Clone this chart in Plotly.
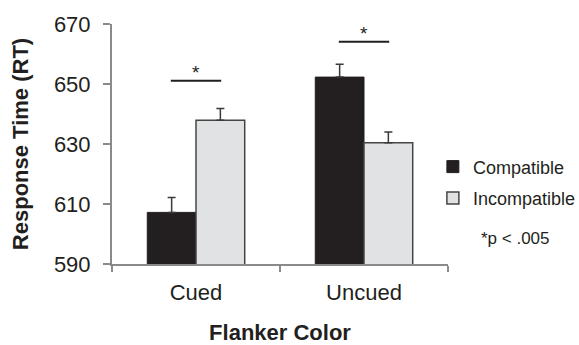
import plotly.graph_objects as go

categories = ["Cued", "Uncued"]
compatible = [607.2, 652.3]
compatible_err = [5.0, 4.3]
incompatible = [637.9, 630.4]
incompatible_err = [3.9, 3.6]
y_ticks = [590, 610, 630, 650, 670]
sig_lines = [  # (category index, line y, star y)
    (0, 651.1, 654.0),
    (1, 664.1, 667.0),
]

FONT = "Liberation Sans, Arial, sans-serif"
AX = "#8a8a8a"

fig = go.Figure()
fig.add_trace(go.Bar(
    x=categories, y=compatible, name="Compatible",
    marker=dict(color="#231f20", line=dict(color="#231f20", width=1)),
    error_y=dict(type="data", array=compatible_err, arrayminus=[0, 0], symmetric=False,
                 color="#3a3a3a", thickness=1.5, width=4),
    legendgroup="a",
))
fig.add_trace(go.Bar(
    x=categories, y=incompatible, name="Incompatible",
    marker=dict(color="#e1e2e4", line=dict(color="#454545", width=1.5)),
    error_y=dict(type="data", array=incompatible_err, arrayminus=[0, 0], symmetric=False,
                 color="#3a3a3a", thickness=1.5, width=4),
    legendgroup="b",
))

for idx, ly, sy in sig_lines:
    fig.add_shape(type="line", xref="x", yref="y", x0=idx - 0.15, x1=idx + 0.15,
                  y0=ly, y1=ly, line=dict(color="#231f20", width=2))
    fig.add_annotation(x=idx, y=sy, xref="x", yref="y", text="*", showarrow=False,
                       font=dict(family=FONT, size=19, color="#231f20"))

fig.add_annotation(x=(515 - 112) / 336, y=(264 - 238) / 240, xref="paper", yref="paper",
                   text="*p < .005", showarrow=False, xanchor="center", yanchor="middle",
                   font=dict(family=FONT, size=17, color="#231f20"))

fig.update_layout(
    width=579, height=345,
    margin=dict(l=112, r=131, t=24, b=81, autoexpand=False),
    paper_bgcolor="white", plot_bgcolor="white",
    barmode="group", bargap=0.42, bargroupgap=0,
    font=dict(family=FONT, color="#231f20"),
    showlegend=True,
    legend=dict(x=0.955, y=0.34, xanchor="left", yanchor="middle",
                font=dict(family=FONT, size=18, color="#231f20"),
                bgcolor="rgba(0,0,0,0)", traceorder="grouped", tracegroupgap=5),
    xaxis=dict(
        showline=True, linecolor=AX, linewidth=2, ticks="outside", tickson="boundaries",
        ticklen=6, tickcolor=AX, tickwidth=1.5, automargin=False, ticklabelstandoff=8,
        tickfont=dict(family=FONT, size=22, color="#231f20"),
        range=[-0.5, 1.5],
        title=dict(text="<b>Flanker Color</b>", font=dict(family=FONT, size=22, color="#231f20"),
                   standoff=21),
    ),
    yaxis=dict(
        range=[590, 670], tickvals=y_ticks, showline=True, linecolor=AX, linewidth=2,
        ticks="outside", ticklen=7, tickcolor=AX, tickwidth=1.5, showgrid=False, zeroline=False,
        automargin=False, ticklabelstandoff=8,
        tickfont=dict(family=FONT, size=22, color="#231f20"),
        title=dict(text="<b>Response Time (RT)</b>", font=dict(family=FONT, size=22, color="#231f20"),
                   standoff=19),
    ),
)

fig.write_html("out.html", config={"displayModeBar": False},
               post_script="document.body.style.margin='0';")
